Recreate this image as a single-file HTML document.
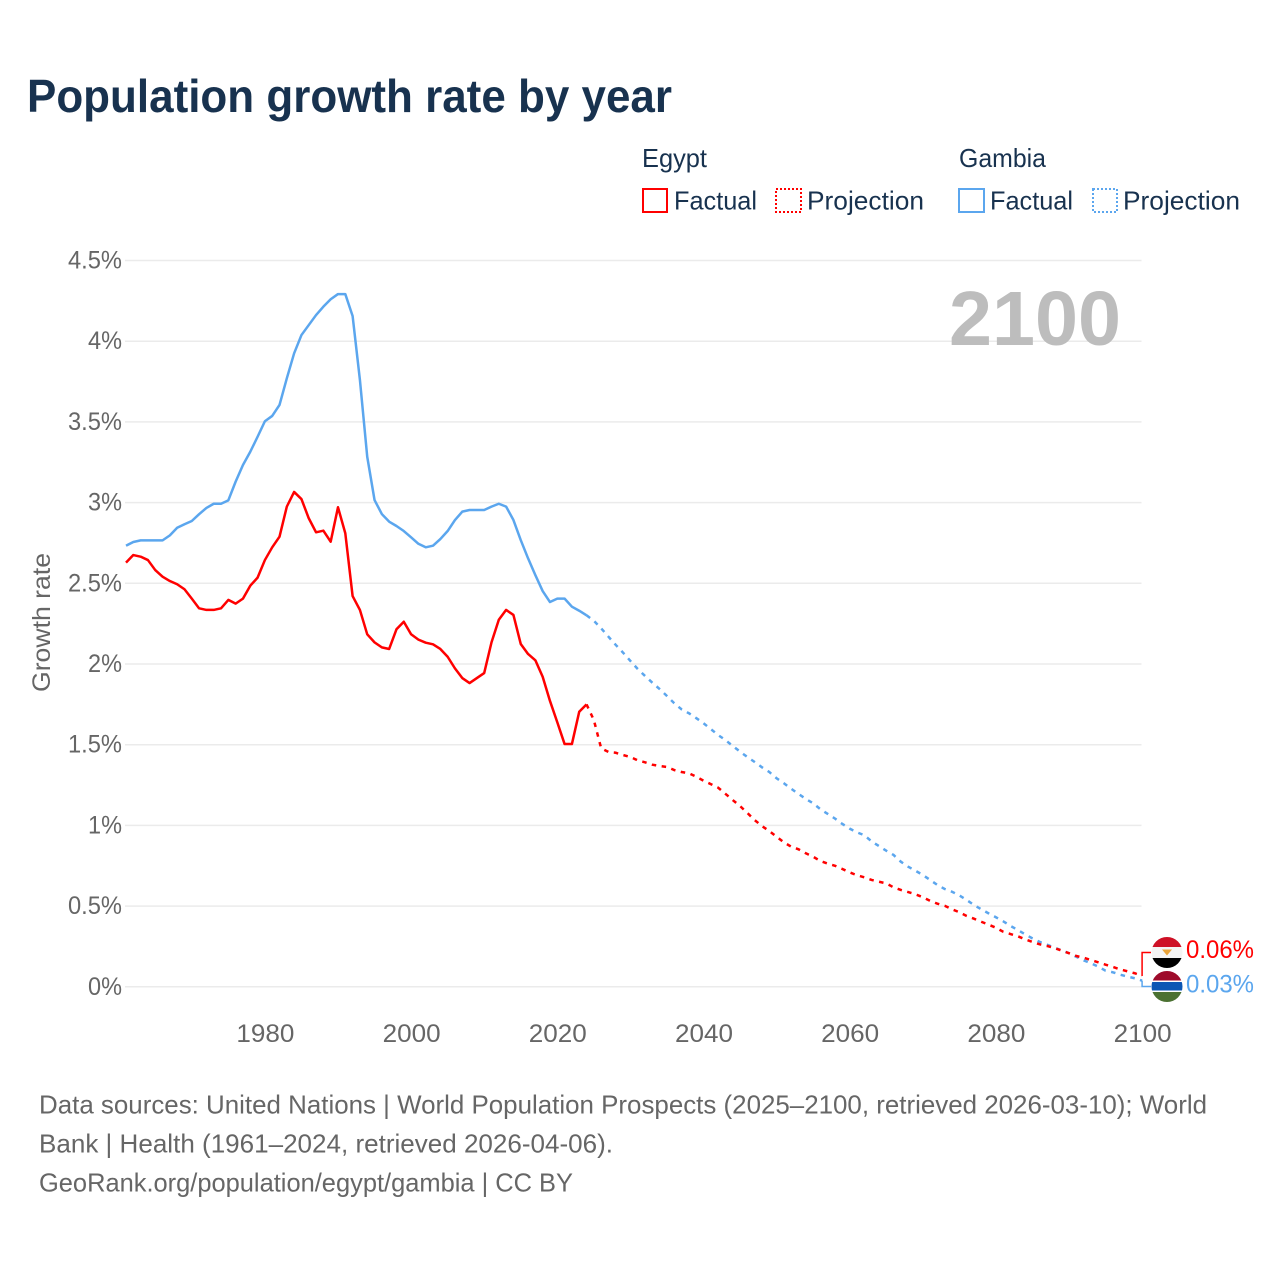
<!DOCTYPE html>
<html lang="en">
<head>
<meta charset="utf-8">
<title>Population growth rate by year</title>
<style>
html,body{margin:0;padding:0;background:#fff;}
svg{display:block;}
text{font-family:"Liberation Sans",sans-serif;}
</style>
</head>
<body>
<svg id="chart" xmlns="http://www.w3.org/2000/svg" width="1280" height="1280" viewBox="0 0 1280 1280">
  <rect width="1280" height="1280" fill="#fff"/>
  <text x="27" y="112" font-size="46" font-weight="700" fill="#18324f" textLength="645" lengthAdjust="spacingAndGlyphs">Population growth rate by year</text>

  <g font-size="26" fill="#18324f">
    <text x="642" y="167" textLength="65" lengthAdjust="spacingAndGlyphs">Egypt</text>
    <text x="959" y="167" textLength="87" lengthAdjust="spacingAndGlyphs">Gambia</text>
    <rect x="643" y="189" width="24" height="23" fill="none" stroke="#ff0000" stroke-width="2"/>
    <text x="674" y="209.5" textLength="83" lengthAdjust="spacingAndGlyphs">Factual</text>
    <rect x="776" y="189" width="25" height="23" fill="none" stroke="#ff0000" stroke-width="2" stroke-dasharray="2,2"/>
    <text x="807" y="209.5" textLength="117" lengthAdjust="spacingAndGlyphs">Projection</text>
    <rect x="959" y="189" width="25" height="23" fill="none" stroke="#5ba6ee" stroke-width="2"/>
    <text x="990" y="209.5" textLength="83" lengthAdjust="spacingAndGlyphs">Factual</text>
    <rect x="1093" y="189" width="24" height="23" fill="none" stroke="#5ba6ee" stroke-width="2" stroke-dasharray="2,2"/>
    <text x="1123" y="209.5" textLength="117" lengthAdjust="spacingAndGlyphs">Projection</text>
  </g>

  <g id="grid"></g>
  <g id="yticks" font-size="25" fill="#666" text-anchor="end"></g>
  <g id="xticks" font-size="25" fill="#666" text-anchor="middle"></g>
  <text transform="translate(50,692) rotate(-90)" font-size="25" fill="#666" textLength="139" lengthAdjust="spacingAndGlyphs">Growth rate</text>
  <text x="949" y="345" font-size="77" font-weight="700" fill="#bdbdbd" textLength="172" lengthAdjust="spacingAndGlyphs">2100</text>

  <g id="series"></g>
  <g id="endlabels"></g>

  <defs>
    <clipPath id="clip-egypt"><circle cx="1167" cy="952.5" r="15.5"/></clipPath>
    <clipPath id="clip-gambia"><circle cx="1167" cy="986.5" r="15.5"/></clipPath>
  </defs>
  <g clip-path="url(#clip-egypt)">
    <rect x="1150" y="936" width="34" height="11" fill="#ce1126"/>
    <rect x="1150" y="947" width="34" height="11" fill="#f4f4f4"/>
    <rect x="1150" y="958" width="34" height="11" fill="#000"/>
    <path d="M1162 949.5h10l-2.5 3-2.5 3-2.5-3z" fill="#e8a33a"/>
  </g>
  <g clip-path="url(#clip-gambia)">
    <rect x="1150" y="970" width="34" height="34" fill="#fff"/>
    <rect x="1150" y="970" width="34" height="10.5" fill="#9e0b2b"/>
    <rect x="1150" y="982" width="34" height="8.5" fill="#0c56b4"/>
    <rect x="1150" y="992" width="34" height="12" fill="#4b7132"/>
  </g>

  <g font-size="26" fill="#666">
    <text x="39" y="1113.5" textLength="1168" lengthAdjust="spacingAndGlyphs">Data sources: United Nations | World Population Prospects (2025–2100, retrieved 2026-03-10); World</text>
    <text x="39" y="1152.5" textLength="574" lengthAdjust="spacingAndGlyphs">Bank | Health (1961–2024, retrieved 2026-04-06).</text>
    <text x="39" y="1191.5" textLength="534" lengthAdjust="spacingAndGlyphs">GeoRank.org/population/egypt/gambia | CC BY</text>
  </g>
</svg>
<script>
const firstFactualYear = 1961;
const firstProjectionYear = 2024;
const xTickYears = [1980, 2000, 2020, 2040, 2060, 2080, 2100];
const yTickValues = [0, 0.5, 1, 1.5, 2, 2.5, 3, 3.5, 4, 4.5];
const yTickLabels = ["0%", "0.5%", "1%", "1.5%", "2%", "2.5%", "3%", "3.5%", "4%", "4.5%"];
const egyptFactual = [2.628,2.675,2.665,2.644,2.582,2.541,2.514,2.494,2.463,2.405,2.345,2.335,2.335,2.345,2.397,2.374,2.405,2.485,2.535,2.644,2.723,2.789,2.975,3.066,3.022,2.903,2.816,2.826,2.758,2.971,2.810,2.421,2.335,2.184,2.134,2.103,2.093,2.215,2.262,2.184,2.151,2.132,2.122,2.093,2.045,1.973,1.913,1.882,1.913,1.944,2.134,2.274,2.335,2.304,2.124,2.062,2.023,1.921,1.771,1.639,1.504,1.504,1.704,1.750];
const egyptProjection = [1.750,1.653,1.478,1.455,1.450,1.436,1.424,1.403,1.391,1.376,1.368,1.362,1.343,1.331,1.323,1.302,1.277,1.256,1.234,1.196,1.157,1.120,1.077,1.033,0.996,0.965,0.930,0.895,0.868,0.852,0.827,0.806,0.779,0.763,0.750,0.730,0.709,0.691,0.678,0.662,0.651,0.641,0.616,0.600,0.587,0.573,0.555,0.533,0.515,0.502,0.480,0.462,0.439,0.422,0.403,0.385,0.366,0.341,0.327,0.313,0.294,0.278,0.263,0.253,0.240,0.224,0.208,0.191,0.180,0.166,0.152,0.137,0.123,0.108,0.096,0.084,0.067];
const gambiaFactual = [2.733,2.756,2.766,2.766,2.766,2.766,2.797,2.844,2.866,2.886,2.928,2.967,2.993,2.993,3.014,3.130,3.233,3.315,3.408,3.504,3.537,3.605,3.770,3.925,4.038,4.100,4.162,4.214,4.260,4.292,4.292,4.156,3.760,3.284,3.016,2.929,2.882,2.855,2.824,2.785,2.745,2.723,2.733,2.774,2.824,2.892,2.944,2.954,2.954,2.954,2.975,2.993,2.975,2.892,2.768,2.655,2.551,2.452,2.384,2.405,2.405,2.355,2.330,2.302];
const gambiaProjection = [2.302,2.268,2.221,2.169,2.118,2.070,2.019,1.969,1.926,1.884,1.845,1.802,1.757,1.719,1.695,1.665,1.633,1.597,1.560,1.529,1.492,1.457,1.424,1.393,1.360,1.331,1.292,1.261,1.227,1.195,1.164,1.137,1.100,1.071,1.042,1.009,0.980,0.957,0.939,0.901,0.872,0.843,0.817,0.775,0.744,0.719,0.693,0.662,0.631,0.606,0.589,0.566,0.538,0.507,0.480,0.455,0.431,0.406,0.377,0.352,0.325,0.300,0.278,0.261,0.242,0.226,0.208,0.186,0.164,0.146,0.125,0.100,0.090,0.075,0.063,0.053,0.038];
const endLabelEgypt = "0.06%";
const endLabelGambia = "0.03%";

const NS = "http://www.w3.org/2000/svg";
const RED = "#ff0000";
const BLUE = "#5ba6ee";
const x = yr => 126 + (yr - 1961) * 7.31;
const y = v => 986.8 - v * 161.4;
const make = (tag, parent) => { const el = document.createElementNS(NS, tag); parent.appendChild(el); return el; };
const labelWidth = s => [...s].reduce((w, c) => w + (c === "%" ? 19.5 : c === "." ? 5.5 : 14.5), 0);

const grid = document.getElementById("grid");
const yticks = document.getElementById("yticks");
const xticks = document.getElementById("xticks");
const series = document.getElementById("series");
const endlabels = document.getElementById("endlabels");

yTickValues.forEach((v, i) => {
  const ln = make("line", grid);
  
  
  ln.setAttribute("x1", 125); ln.setAttribute("x2", 1141.5);
  ln.setAttribute("y1", y(v)); ln.setAttribute("y2", y(v));
  ln.setAttribute("stroke", "#ebebeb"); ln.setAttribute("stroke-width", 1.5);
  const t = make("text", yticks);
  
  
  t.setAttribute("x", 122); t.setAttribute("y", y(v) + 8);
  t.setAttribute("textLength", labelWidth(yTickLabels[i]));
  t.setAttribute("lengthAdjust", "spacingAndGlyphs");
  t.textContent = yTickLabels[i];
});

xTickYears.forEach(yr => {
  const t = make("text", xticks);
  
  
  t.setAttribute("x", x(yr) + 0.5); t.setAttribute("y", 1042);
  t.setAttribute("textLength", 58);
  t.setAttribute("lengthAdjust", "spacingAndGlyphs");
  t.textContent = yr;
});

const linePath = (vals, startYear) => vals.map((v, i) => (i ? "L" : "M") + x(startYear + i).toFixed(2) + " " + y(v).toFixed(2)).join("");

const egyptF = make("path", series);


egyptF.setAttribute("d", linePath(egyptFactual, firstFactualYear));
egyptF.setAttribute("fill", "none"); egyptF.setAttribute("stroke", RED); egyptF.setAttribute("stroke-width", 2.5);
egyptF.setAttribute("stroke-linejoin", "round");

const gambiaF = make("path", series);


gambiaF.setAttribute("d", linePath(gambiaFactual, firstFactualYear));
gambiaF.setAttribute("fill", "none"); gambiaF.setAttribute("stroke", BLUE); gambiaF.setAttribute("stroke-width", 2.5);
gambiaF.setAttribute("stroke-linejoin", "round");

const gambiaP = make("path", series);


gambiaP.setAttribute("d", linePath(gambiaProjection, firstProjectionYear));
gambiaP.setAttribute("fill", "none"); gambiaP.setAttribute("stroke", BLUE); gambiaP.setAttribute("stroke-width", 2.5);
gambiaP.setAttribute("stroke-dasharray", "4.5,5.5");

const egyptP = make("path", series);


egyptP.setAttribute("d", linePath(egyptProjection, firstProjectionYear));
egyptP.setAttribute("fill", "none"); egyptP.setAttribute("stroke", RED); egyptP.setAttribute("stroke-width", 2.5);
egyptP.setAttribute("stroke-dasharray", "4.5,5.5");

const lastEgypt = egyptProjection[egyptProjection.length - 1];
const lastGambia = gambiaProjection[gambiaProjection.length - 1];

const connE = make("path", endlabels);


connE.setAttribute("d", "M" + x(2100) + " " + y(lastEgypt) + "V952.5H1151");
connE.setAttribute("fill", "none"); connE.setAttribute("stroke", RED); connE.setAttribute("stroke-width", 1.5);

const connG = make("path", endlabels);


connG.setAttribute("d", "M" + x(2100) + " " + y(lastGambia) + "V986.5H1151");
connG.setAttribute("fill", "none"); connG.setAttribute("stroke", BLUE); connG.setAttribute("stroke-width", 1.5);

const labE = make("text", endlabels);


labE.setAttribute("x", 1186); labE.setAttribute("y", 958);
labE.setAttribute("font-size", 25); labE.setAttribute("fill", RED);
labE.setAttribute("textLength", 68); labE.setAttribute("lengthAdjust", "spacingAndGlyphs");
labE.textContent = endLabelEgypt;

const labG = make("text", endlabels);


labG.setAttribute("x", 1186); labG.setAttribute("y", 992.5);
labG.setAttribute("font-size", 25); labG.setAttribute("fill", BLUE);
labG.setAttribute("textLength", 68); labG.setAttribute("lengthAdjust", "spacingAndGlyphs");
labG.textContent = endLabelGambia;
</script>
</body>
</html>
